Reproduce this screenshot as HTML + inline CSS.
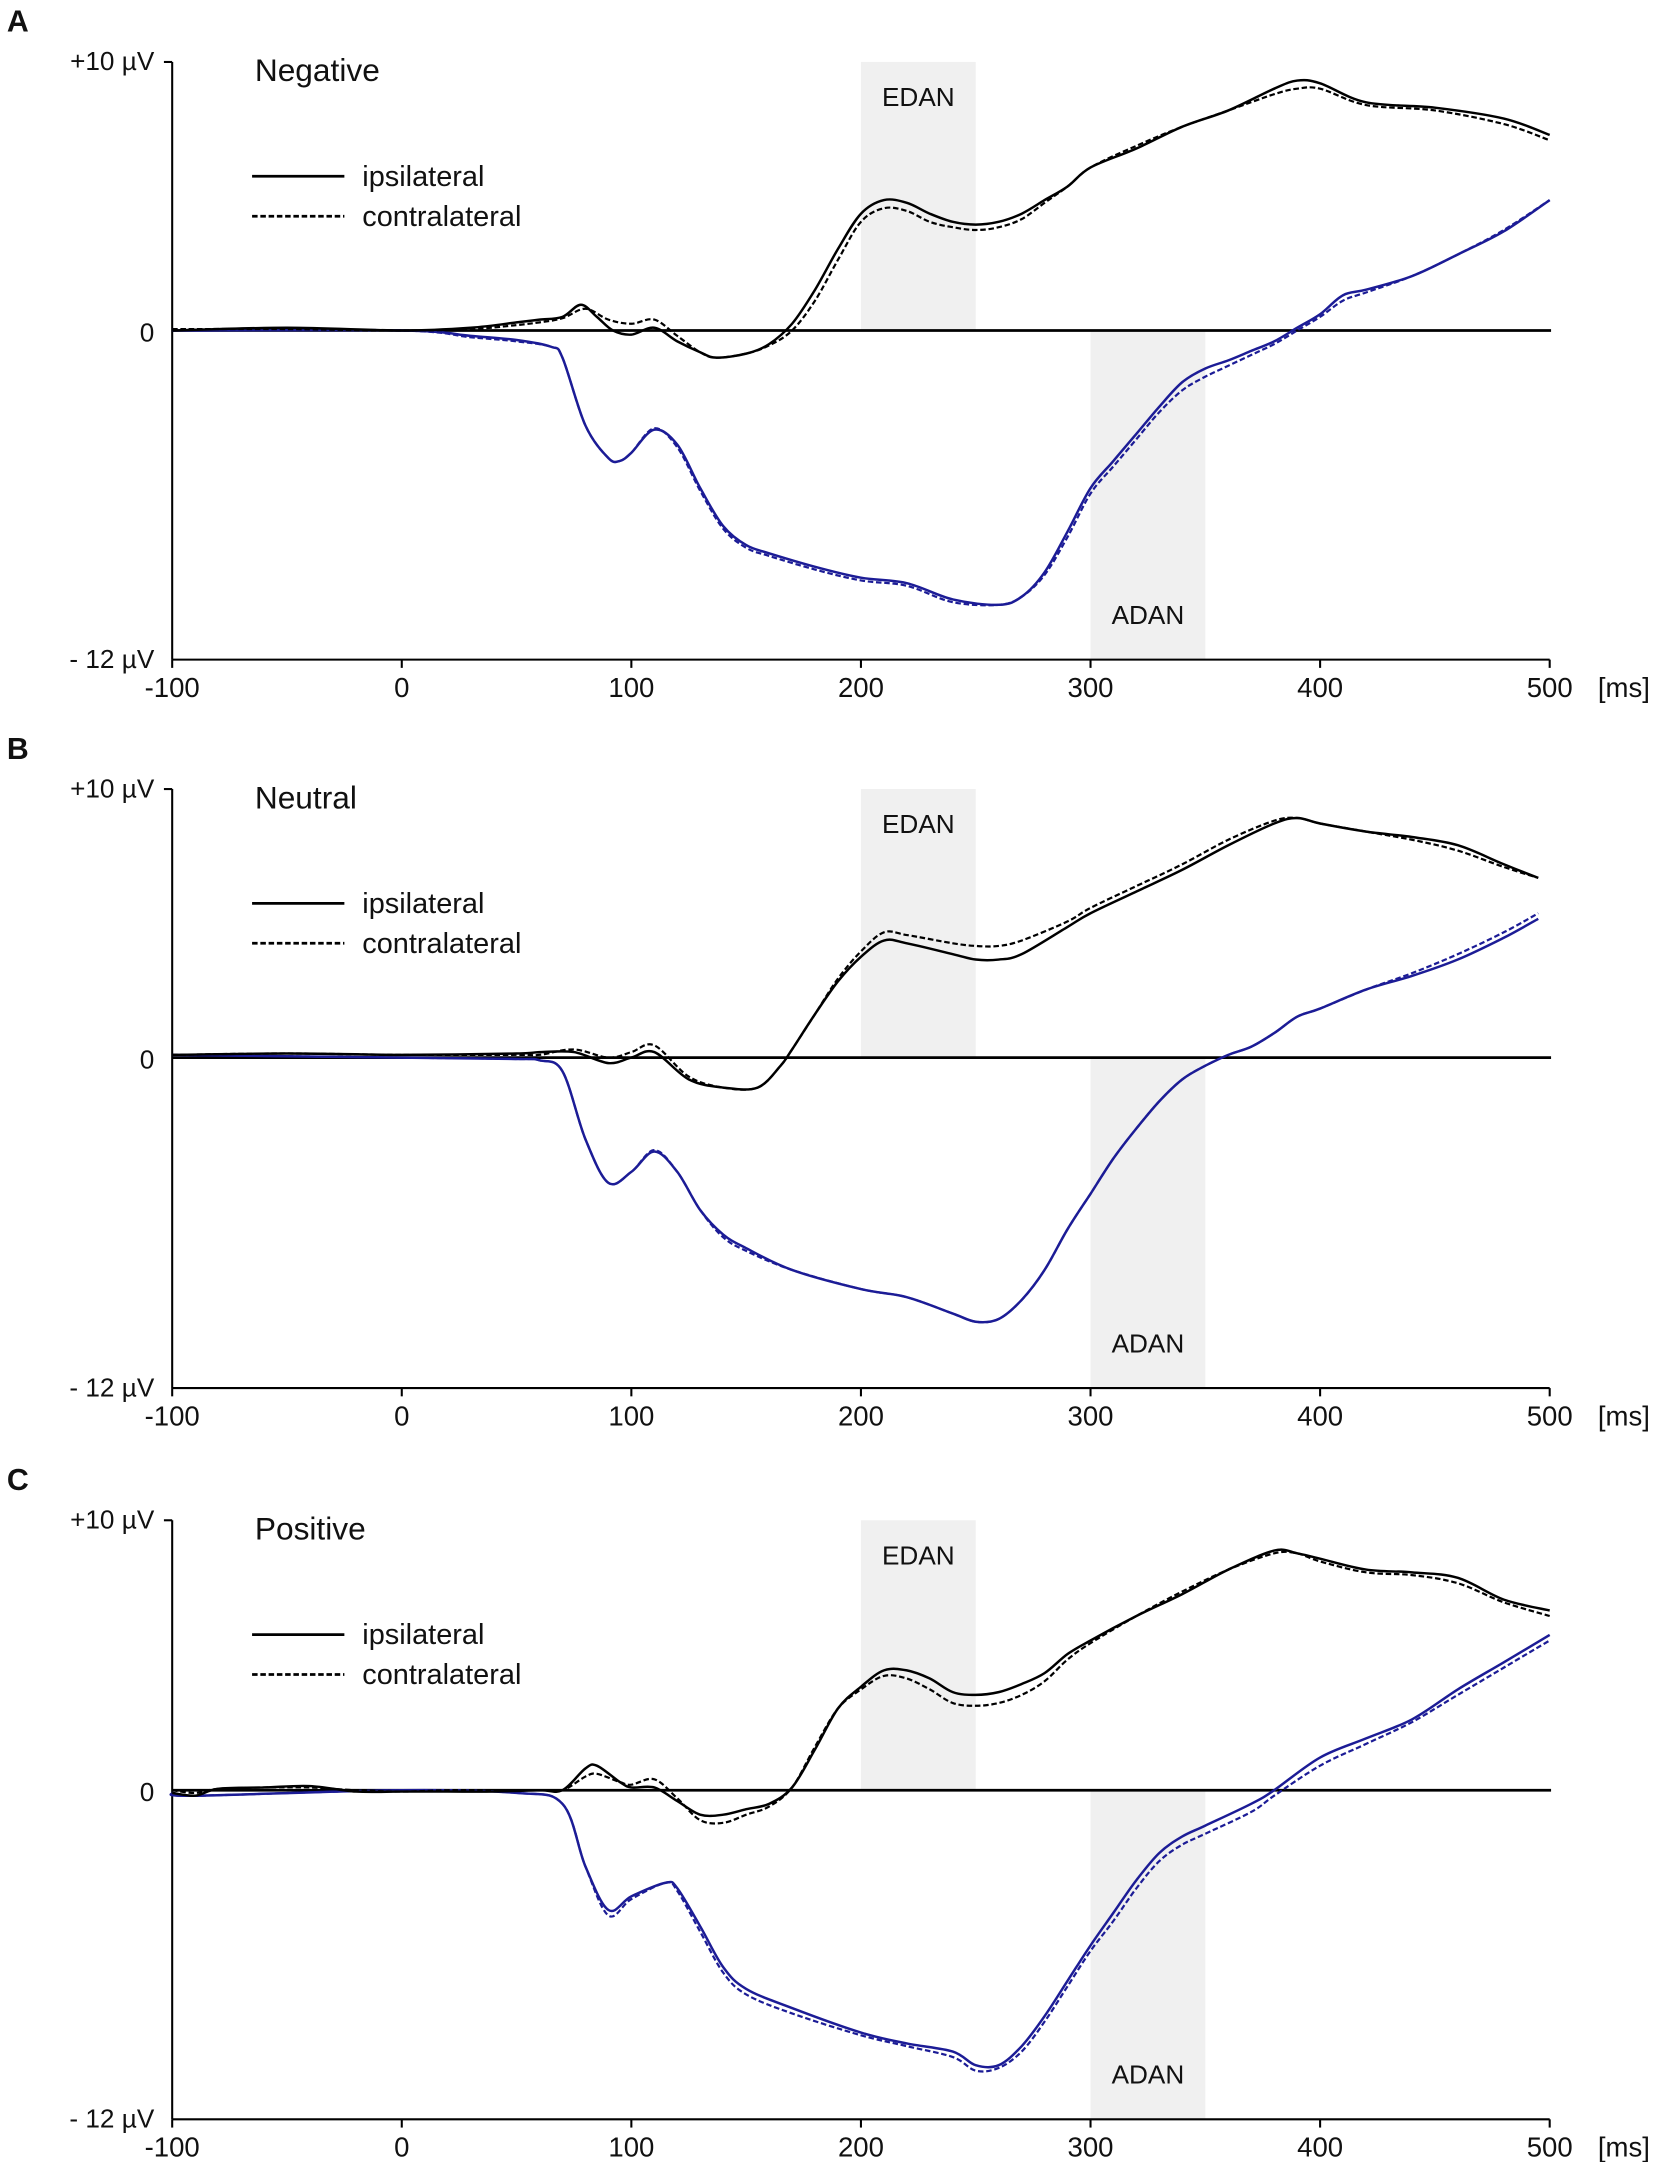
<!DOCTYPE html>
<html><head><meta charset="utf-8"><style>
html,body{margin:0;padding:0;background:#fff}
svg{display:block}
text{font-family:"Liberation Sans",Arial,sans-serif;fill:#111}
</style></head><body>
<svg id="chart" width="1653" height="2162" viewBox="0 0 1200 1570" preserveAspectRatio="none" xmlns="http://www.w3.org/2000/svg"></svg>
<script>
const panelLetters=["A","B","C"];
const panelTitles=["Negative","Neutral","Positive"];
const xTicks=[-100,0,100,200,300,400,500];
// Panel A
const tA_ib=[-100,-50,0,30,50,60,70,78,85,92,100,110,120,130,137,150,160,170,180,190,200,210,220,230,240,250,260,270,280,290,300,320,340,360,380,390,400,420,450,480,500];
const vA_ib=[0,0.1,0,0.1,0.3,0.4,0.5,0.95,0.5,0,-0.15,0.1,-0.4,-0.8,-1.0,-0.85,-0.5,0.25,1.5,3.0,4.3,4.8,4.7,4.3,4.0,3.9,4.0,4.3,4.8,5.3,6.0,6.7,7.5,8.1,8.9,9.2,9.1,8.4,8.2,7.8,7.2];
const tA_cb=[-100,-50,0,30,50,60,70,80,90,100,110,120,130,137,150,160,170,180,190,200,210,220,230,240,250,260,270,280,290,300,320,340,360,380,390,400,420,450,480,500];
const vA_cb=[0.05,0.05,0,0.05,0.2,0.3,0.45,0.8,0.4,0.25,0.4,-0.2,-0.8,-1.0,-0.85,-0.55,0.0,1.1,2.6,4.0,4.5,4.4,4.0,3.8,3.7,3.8,4.1,4.7,5.3,6.0,6.8,7.5,8.1,8.7,8.9,8.9,8.3,8.1,7.6,7.0];
const tA_ib2=[-100,0,30,50,65,70,80,90,95,100,110,120,130,140,150,160,180,200,220,240,260,270,280,290,300,310,320,330,340,350,360,370,380,390,400,410,420,440,460,480,500];
const vA_ib2=[0,0,-0.2,-0.35,-0.6,-1.0,-3.5,-4.7,-4.8,-4.5,-3.65,-4.2,-5.8,-7.2,-7.9,-8.2,-8.7,-9.1,-9.3,-9.9,-10.1,-9.8,-8.9,-7.4,-5.8,-4.8,-3.8,-2.8,-1.9,-1.4,-1.1,-0.75,-0.4,0.1,0.6,1.3,1.5,2.0,2.8,3.65,4.8];
const vA_cb2=[0.05,0,-0.25,-0.4,-0.6,-1.0,-3.5,-4.7,-4.8,-4.5,-3.6,-4.3,-5.9,-7.3,-8.0,-8.3,-8.8,-9.2,-9.4,-10.0,-10.1,-9.8,-9.0,-7.6,-6.0,-5.0,-4.0,-3.0,-2.2,-1.7,-1.3,-0.9,-0.5,0.0,0.5,1.1,1.4,2.0,2.8,3.7,4.8];
// Panel B
const tB_b=[-100,-50,0,50,60,75,90,100,110,125,140,155,165,170,180,190,200,210,220,240,250,260,270,290,300,320,340,360,380,390,400,420,440,460,480,495];
const vB_ib=[0.1,0.15,0.1,0.15,0.2,0.2,-0.2,0,0.2,-0.8,-1.1,-1.1,-0.3,0.3,1.6,2.8,3.7,4.3,4.2,3.8,3.6,3.6,3.8,4.8,5.3,6.1,6.9,7.8,8.6,8.8,8.6,8.3,8.1,7.8,7.1,6.6];
const vB_cb=[0.1,0.15,0.1,0.1,0.1,0.3,0.0,0.2,0.45,-0.7,-1.1,-1.1,-0.3,0.3,1.6,2.9,3.9,4.6,4.5,4.2,4.1,4.1,4.3,5.0,5.5,6.3,7.1,8.0,8.7,8.8,8.6,8.3,8.0,7.6,7.0,6.6];
const tB_w=[-100,0,50,60,70,80,90,100,110,120,130,140,150,170,200,220,240,250,260,270,280,290,300,310,320,330,340,350,360,370,380,390,400,420,440,460,480,495];
const vB_iw=[0.1,0,-0.05,-0.1,-0.5,-3.0,-4.6,-4.2,-3.45,-4.2,-5.6,-6.5,-7.0,-7.8,-8.5,-8.8,-9.4,-9.7,-9.6,-8.9,-7.8,-6.3,-5.0,-3.7,-2.6,-1.6,-0.8,-0.3,0.1,0.4,0.9,1.5,1.8,2.5,3.0,3.6,4.4,5.1];
const vB_cw=[0.1,0,-0.05,-0.1,-0.5,-3.0,-4.6,-4.2,-3.4,-4.2,-5.6,-6.6,-7.1,-7.8,-8.5,-8.8,-9.4,-9.7,-9.6,-8.9,-7.8,-6.3,-5.0,-3.7,-2.6,-1.6,-0.8,-0.3,0.1,0.4,0.9,1.5,1.8,2.5,3.1,3.8,4.6,5.3];
// Panel C
const tC_b=[-100,-90,-80,-60,-40,-20,0,20,40,60,70,80,85,95,100,110,120,130,140,150,160,170,180,190,200,210,220,230,240,250,260,270,280,290,300,320,340,360,380,390,400,420,440,460,480,500];
const vC_ib=[-0.1,-0.2,0.05,0.1,0.15,-0.05,-0.05,-0.05,-0.05,0,0,0.8,0.9,0.3,0.1,0.1,-0.4,-0.9,-0.9,-0.7,-0.5,0.1,1.5,3.0,3.8,4.4,4.4,4.1,3.6,3.5,3.6,3.9,4.3,5.0,5.5,6.4,7.2,8.1,8.8,8.7,8.5,8.1,8.0,7.8,7.0,6.6];
const vC_cb=[0,-0.1,0.05,0.1,0.1,0,-0.05,0,0,0,0,0.5,0.6,0.3,0.2,0.4,-0.3,-1.1,-1.2,-0.9,-0.6,0.1,1.6,3.0,3.7,4.2,4.1,3.7,3.2,3.1,3.2,3.5,4.0,4.8,5.4,6.4,7.3,8.1,8.7,8.7,8.4,8.0,7.9,7.6,6.9,6.4];
const tC_w=[-100,-90,0,50,70,80,90,100,115,120,130,140,150,170,200,220,240,250,260,270,280,290,300,310,320,330,340,350,370,380,400,420,440,460,480,500];
const vC_iw=[-0.1,-0.2,0,-0.1,-0.5,-2.8,-4.4,-3.9,-3.4,-3.6,-5.0,-6.5,-7.3,-8.0,-8.9,-9.3,-9.6,-10.1,-10.1,-9.4,-8.3,-7.0,-5.7,-4.5,-3.3,-2.3,-1.7,-1.3,-0.5,0,1.2,1.9,2.6,3.7,4.7,5.7];
const vC_cw=[-0.1,-0.2,0,-0.1,-0.5,-2.8,-4.6,-4.0,-3.4,-3.7,-5.2,-6.7,-7.5,-8.2,-9.0,-9.4,-9.8,-10.3,-10.2,-9.6,-8.5,-7.2,-5.9,-4.8,-3.6,-2.6,-2.0,-1.6,-0.8,-0.2,0.9,1.7,2.5,3.5,4.5,5.5];

const panels=[
 {top:45,zero:240,bottom:479,series:[[tA_ib2,vA_ib2,"#1c1c96",false],[tA_ib2,vA_cb2,"#1c1c96",true],[tA_ib,vA_ib,"#000",false],[tA_cb,vA_cb,"#000",true]]},
 {top:573,zero:768,bottom:1008,series:[[tB_w,vB_iw,"#1c1c96",false],[tB_w,vB_cw,"#1c1c96",true],[tB_b,vB_ib,"#000",false],[tB_b,vB_cb,"#000",true]]},
 {top:1104,zero:1300,bottom:1539,series:[[tC_w,vC_iw,"#1c1c96",false],[tC_w,vC_cw,"#1c1c96",true],[tC_b,vC_ib,"#000",false],[tC_b,vC_cb,"#000",true]]}
];
const svg=document.getElementById('chart');
const NS="http://www.w3.org/2000/svg";
function mk(tag,attrs,parent,txt){const e=document.createElementNS(NS,tag);for(const k in attrs)e.setAttribute(k,attrs[k]);if(txt!==undefined)e.textContent=txt;(parent||svg).appendChild(e);return e;}
const xS=t=>125+(t+100)*1000/600;
function smooth(pts){let d="M"+pts[0][0]+","+pts[0][1];for(let i=0;i<pts.length-1;i++){const p0=pts[Math.max(0,i-1)],p1=pts[i],p2=pts[i+1],p3=pts[Math.min(pts.length-1,i+2)];const c1=[p1[0]+(p2[0]-p0[0])/6,p1[1]+(p2[1]-p0[1])/6],c2=[p2[0]-(p3[0]-p1[0])/6,p2[1]-(p3[1]-p1[1])/6];d+=" C"+c1[0].toFixed(1)+","+c1[1].toFixed(1)+" "+c2[0].toFixed(1)+","+c2[1].toFixed(1)+" "+p2[0].toFixed(1)+","+p2[1].toFixed(1);}return d;}
panels.forEach((p,i)=>{
 const g=mk('g',{});
 
 
 const k=(p.bottom-p.top)/22;
 const yS=v=>p.zero-v*k;
 const L=mk('text',{x:5,y:p.top-22,'font-size':22,'font-weight':'bold'},g,panelLetters[i]);
 
 const e=mk('rect',{x:xS(200),y:p.top,width:xS(250)-xS(200),height:p.zero-p.top,fill:'#f0f0f0'},g);
 
 const a=mk('rect',{x:xS(300),y:p.zero,width:xS(350)-xS(300),height:p.bottom-p.zero,fill:'#f0f0f0'},g);
 
 const et=mk('text',{x:xS(225),y:p.top+32,'font-size':19,'text-anchor':'middle'},g,"EDAN");
 
 const at=mk('text',{x:xS(325),y:p.bottom-26,'font-size':19,'text-anchor':'middle'},g,"ADAN");
 
 const z=mk('line',{x1:125,x2:1126,y1:p.zero,y2:p.zero,stroke:'#000','stroke-width':2},g);
 
 const ya=mk('line',{x1:125,x2:125,y1:p.top,y2:p.bottom,stroke:'#000','stroke-width':1.5},g);
 
 mk('line',{x1:119,x2:125,y1:p.top,y2:p.top,stroke:'#000','stroke-width':1.5},g);
 const xa=mk('line',{x1:125,x2:1125,y1:p.bottom,y2:p.bottom,stroke:'#000','stroke-width':1.5},g);
 
 xTicks.forEach(t=>{mk('line',{x1:xS(t),x2:xS(t),y1:p.bottom,y2:p.bottom+6,stroke:'#000','stroke-width':1.5},g);
  const tl=mk('text',{x:xS(t),y:p.bottom+27,'font-size':20,'text-anchor':'middle'},g,String(t));
  });
 const ms=mk('text',{x:1160,y:p.bottom+27,'font-size':20},g,"[ms]");
 
 [["+10 µV",p.top+6],["0",p.zero+8],["- 12 µV",p.bottom+6]].forEach(([s,y])=>{const t=mk('text',{x:112,y:y,'font-size':19,'text-anchor':'end'},g,s);
  });
 const ti=mk('text',{x:185,y:p.top+14,'font-size':23},g,panelTitles[i]);
 
 const lg=mk('g',{},g);
 mk('line',{x1:183,x2:250,y1:p.top+83,y2:p.top+83,stroke:'#000','stroke-width':2},lg);
 const l1=mk('text',{x:263,y:p.top+90,'font-size':21},lg,"ipsilateral");
 
 mk('line',{x1:183,x2:250,y1:p.top+112,y2:p.top+112,stroke:'#000','stroke-width':2,'stroke-dasharray':'4,2'},lg);
 const l2=mk('text',{x:263,y:p.top+119,'font-size':21},lg,"contralateral");
 
 p.series.forEach(([ts,vs,col,dash],j)=>{
  const pts=ts.map((t,n)=>[xS(t),yS(vs[n])]);
  const path=mk('path',{d:smooth(pts),fill:'none',stroke:col,'stroke-width':dash?1.6:1.8,'stroke-dasharray':dash?'4,2':'none'},g);
  
  
 });
});
</script>
</body></html>
